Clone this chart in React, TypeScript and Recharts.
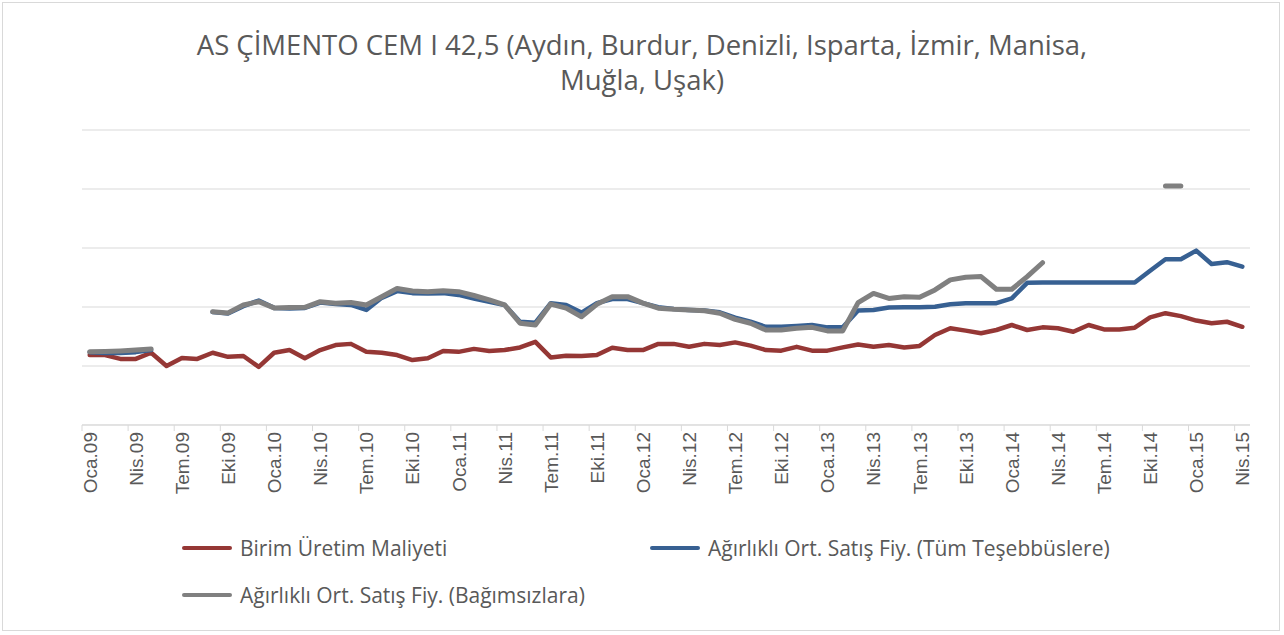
import React from "react";
import { LineChart, Line, XAxis, YAxis, CartesianGrid } from "recharts";

const monthNames = ["Oca", "Şub", "Mar", "Nis", "May", "Haz", "Tem", "Ağu", "Eyl", "Eki", "Kas", "Ara"];
const years = ["09", "10", "11", "12", "13", "14", "15"];
const allMonths: string[] = [];
years.forEach((y) => monthNames.forEach((m) => allMonths.push(`${m}.${y}`)));
const categories = allMonths.slice(0, 76);

// Birim Üretim Maliyeti
const birimMaliyet = [
  23.7, 23.7, 22.4, 22.4, 24.5, 20.0, 22.7, 22.4, 24.5, 23.1, 23.4, 19.7,
  24.5, 25.4, 22.6, 25.4, 27.1, 27.5, 24.8, 24.5, 23.7, 22.0, 22.6, 25.1,
  24.8, 25.8, 25.1, 25.4, 26.3, 28.2, 22.9, 23.5, 23.4, 23.7, 26.2, 25.4,
  25.4, 27.5, 27.5, 26.5, 27.5, 27.1, 28.0, 26.9, 25.4, 25.2, 26.5, 25.2,
  25.2, 26.3, 27.3, 26.5, 27.1, 26.3, 26.8, 30.5, 32.8, 32.0, 31.1, 32.2,
  33.9, 32.2, 33.1, 32.8, 31.6, 33.9, 32.4, 32.4, 33.0, 36.5, 37.9, 36.9,
  35.4, 34.5, 35.0, 33.3,
];

// Ağırlıklı Ort. Satış Fiy. (Tüm Teşebbüslere)
const tumTesebbus: (number | null)[] = [
  24.7, 24.4, 24.4, 24.7, 25.4, null, null, null, 38.3, 37.8, 40.3, 42.2,
  39.7, 39.5, 39.7, 41.5, 41.0, 40.7, 39.0, 43.1, 45.4, 44.7, 44.6, 44.7,
  44.1, 42.9, 41.8, 40.7, 35.0, 34.7, 41.3, 40.7, 38.1, 41.3, 42.7, 42.7,
  41.3, 39.9, 39.3, 39.0, 38.8, 38.2, 36.4, 35.0, 33.3, 33.3, 33.6, 33.9,
  33.1, 33.1, 38.8, 39.0, 39.8, 39.9, 39.9, 40.1, 40.9, 41.3, 41.3, 41.3,
  42.9, 48.2, 48.3, 48.3, 48.3, 48.3, 48.3, 48.3, 48.3, 52.3, 56.2, 56.2,
  59.1, 54.6, 55.2, 53.7,
];

// Ağırlıklı Ort. Satış Fiy. (Bağımsızlara)
const bagimsiz: (number | null)[] = [
  24.8, 24.9, 25.1, 25.4, 25.8, null, null, null, 38.4, 38.0, 40.7, 41.8,
  39.7, 39.8, 39.9, 41.8, 41.3, 41.5, 40.7, 43.5, 46.3, 45.4, 45.2, 45.5,
  45.2, 43.9, 42.4, 40.7, 34.5, 33.9, 41.0, 39.6, 36.7, 40.9, 43.5, 43.5,
  41.3, 39.6, 39.2, 39.0, 38.7, 37.9, 35.8, 34.5, 32.2, 32.2, 32.8, 33.1,
  31.9, 31.9, 41.5, 44.6, 42.9, 43.5, 43.3, 45.8, 49.2, 50.1, 50.3, 46.0,
  46.0, 50.3, 55.0, null, null, null, null, null, null, null, 81.0, 81.0,
  null, null, null, null,
];

const yTicks = [0, 20, 40, 60, 80, 100];

const data = categories.map((m, i) => ({
  m,
  maliyet: birimMaliyet[i],
  tum: tumTesebbus[i],
  bag: bagimsiz[i],
}));

const RED = "#953735";
const BLUE = "#376092";
const GREY = "#808080";
const TEXT = "#595959";
const FONT = "'Open Sans', sans-serif";

const PLOT_LEFT = 82;
const PLOT_RIGHT = 1250;
const BAND = (PLOT_RIGHT - PLOT_LEFT) / categories.length;

function MonthTick({ x, y, payload }: any) {
  const bx = x - BAND / 2;
  return (
    <g>
      <line x1={bx} x2={bx} y1={y} y2={y + 6} stroke="#d9d9d9" />
      <text
        transform={`translate(${x + 7},${y + 7}) rotate(-90)`}
        textAnchor="end"
        fill={TEXT}
        fontSize={19}
        fontFamily="'Liberation Sans', Arial, sans-serif"
      >
        {payload.value}
      </text>
    </g>
  );
}

function LegendItem({ color, label, left, top }: { color: string; label: string; left: number; top: number }) {
  return (
    <div style={{ position: "absolute", left, top, display: "flex", alignItems: "center" }}>
      <div style={{ width: 50, height: 4.5, background: color, borderRadius: 2, marginRight: 8 }} />
      <span style={{ fontFamily: FONT, fontSize: 21, color: TEXT, whiteSpace: "nowrap" }}>{label}</span>
    </div>
  );
}

export default function App() {
  return (
    <div
      style={{
        position: "absolute",
        left: 0,
        top: 0,
        width: 1284,
        height: 635,
        background: "#fff",
        overflow: "hidden",
      }}
    >
      <div
        style={{
          position: "absolute",
          left: 2,
          top: 2,
          width: 1278,
          height: 629,
          border: "1px solid #d9d9d9",
          boxSizing: "border-box",
        }}
      />
      <div
        style={{
          position: "absolute",
          left: 0,
          top: 27,
          width: 1284,
          textAlign: "center",
          fontFamily: FONT,
          fontSize: 27.5,
          lineHeight: "35px",
          color: TEXT,
        }}
      >
        AS ÇİMENTO CEM I 42,5 (Aydın, Burdur, Denizli, Isparta, İzmir, Manisa,
        <br />
        Muğla, Uşak)
      </div>
      <div style={{ position: "absolute", left: 0, top: 0 }}>
        <LineChart
          width={1284}
          height={635}
          data={data}
          margin={{ top: 130, right: 1284 - PLOT_RIGHT, left: PLOT_LEFT, bottom: 0 }}
        >
          <CartesianGrid vertical={false} stroke="#d9d9d9" strokeWidth={1} />
          <XAxis
            dataKey="m"
            interval={2}
            padding={{ left: BAND / 2, right: BAND / 2 }}
            height={210}
            tickSize={0}
            tickMargin={0}
            tick={<MonthTick />}
            axisLine={{ stroke: "#d9d9d9" }}
            tickLine={false}
          />
          <YAxis hide domain={[0, 100]} ticks={yTicks} />
          <Line
            dataKey="maliyet"
            stroke={RED}
            strokeWidth={4.5}
            strokeLinejoin="round"
            strokeLinecap="round"
            dot={false}
            activeDot={false}
            isAnimationActive={false}
          />
          <Line
            dataKey="tum"
            stroke={BLUE}
            strokeWidth={4.5}
            strokeLinejoin="round"
            strokeLinecap="round"
            dot={false}
            activeDot={false}
            isAnimationActive={false}
          />
          <Line
            dataKey="bag"
            stroke={GREY}
            strokeWidth={5}
            strokeLinejoin="round"
            strokeLinecap="round"
            dot={false}
            activeDot={false}
            isAnimationActive={false}
          />
        </LineChart>
      </div>
      <LegendItem color={RED} label="Birim Üretim Maliyeti" left={182} top={534} />
      <LegendItem color={BLUE} label="Ağırlıklı Ort. Satış Fiy. (Tüm Teşebbüslere)" left={650} top={534} />
      <LegendItem color={GREY} label="Ağırlıklı Ort. Satış Fiy. (Bağımsızlara)" left={182} top={581} />
    </div>
  );
}
